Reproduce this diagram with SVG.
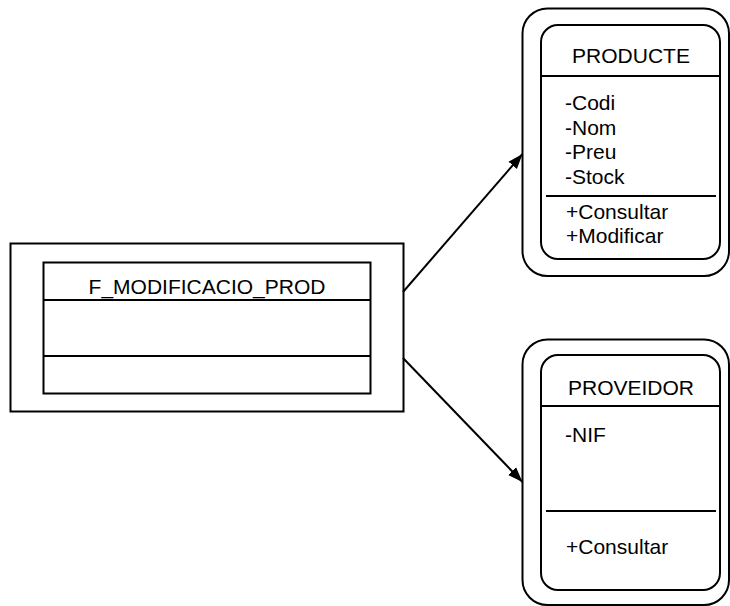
<svg xmlns="http://www.w3.org/2000/svg" width="730" height="606" viewBox="0 0 730 606">
<defs>
<style>
.s{fill:#fff;stroke:#000;stroke-width:2}
.l{stroke:#000;stroke-width:2;fill:none}
.t{font-family:"Liberation Sans",Arial,sans-serif;font-size:21px;fill:#000}
.c{text-anchor:middle}
</style>
<marker id="ah" viewBox="0 0 10 10" refX="10" refY="5" markerWidth="7.5" markerHeight="7.5" orient="auto" markerUnits="strokeWidth">
<path d="M0,1.3 L10,5 L0,8.7 z" fill="#000"/>
</marker>
</defs>
<rect width="730" height="606" fill="#fff"/>
<g id="f_modificacio_prod">
<rect class="s" x="10.5" y="243.5" width="393" height="168"/>
<rect class="s" x="43.5" y="262.5" width="327" height="131"/>
<line class="l" x1="43.5" y1="300" x2="370.5" y2="300"/>
<line class="l" x1="43.5" y1="356" x2="370.5" y2="356"/>
<text class="t c" x="207" y="293.5">F_MODIFICACIO_PROD</text>
</g>
<g id="producte">
<rect class="s" x="522.5" y="8.5" width="206.5" height="267.5" rx="25" ry="25"/>
<rect class="s" x="541" y="25" width="179" height="234" rx="17" ry="17"/>
<line class="l" x1="541" y1="76" x2="720" y2="76"/>
<line class="l" x1="546" y1="196" x2="716" y2="196"/>
<text class="t c" x="631" y="62.5">PRODUCTE</text>
<text class="t" x="565" y="110">-Codi</text>
<text class="t" x="565" y="134.5">-Nom</text>
<text class="t" x="565" y="159">-Preu</text>
<text class="t" x="565" y="183.5">-Stock</text>
<text class="t" x="566" y="218.5">+Consultar</text>
<text class="t" x="566" y="243">+Modificar</text>
</g>
<g id="proveidor">
<rect class="s" x="522.5" y="339.5" width="206.5" height="265.5" rx="25" ry="25"/>
<rect class="s" x="541" y="355" width="179" height="235" rx="17" ry="17"/>
<line class="l" x1="541" y1="406" x2="720" y2="406"/>
<line class="l" x1="546" y1="511" x2="716" y2="511"/>
<text class="t c" x="631" y="394.5">PROVEIDOR</text>
<text class="t" x="565" y="442">-NIF</text>
<text class="t" x="566" y="553.5">+Consultar</text>
</g>
<g id="connectors">
<line class="l" x1="403" y1="292" x2="522.5" y2="154" marker-end="url(#ah)"/>
<line class="l" x1="403" y1="358" x2="522.5" y2="482" marker-end="url(#ah)"/>
</g>
</svg>
